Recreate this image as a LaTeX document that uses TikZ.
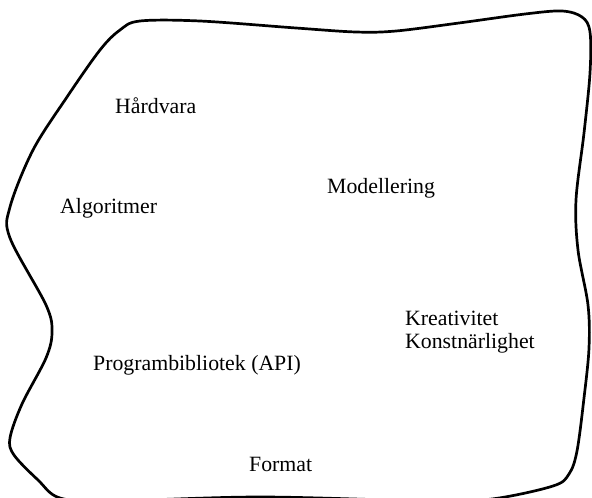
\documentclass[tikz,border=0pt]{standalone}
\usepackage{fontspec}
\setmainfont{Liberation Serif}
\begin{document}
\begin{tikzpicture}[x=1pt,y=-1pt,
  lbl/.style={anchor=base west,inner sep=0pt,font=\fontsize{21.8}{23}\selectfont},
  blob/.style={line width=2.7pt,line join=round}]
\useasboundingbox (0,0) rectangle (592,498);
\clip (0,0) rectangle (592,498);
% freehand outline of the field
\draw[blob] plot[smooth cycle,tension=0.55] coordinates {
  (140,21) (200,21) (296,28) (356,32) (396,31) (459,23) (525,14) (562,11)
  (582,17) (590,32) (590,73) (584,133) (576,200) (578,250) (588,305)
  (589,348) (584,398) (577,451) (569,474) (553,486) (492,499)
  (430,501) (260,497) (110,501) (60,498) (38,480) (14,455) (10,438)
  (22,404) (46,358) (52,332) (46,305) (10,238) (10,207) (33,150)
  (67,97) (100,50) (120,30)};
% topics
\node[lbl] (hardvara) at (115,113) {Hårdvara};
\node[lbl] (modellering) at (327,193) {Modellering};
\node[lbl] (algoritmer) at (60,213) {Algoritmer};
\node[lbl] (kreativitet) at (405,325) {Kreativitet};
\node[lbl] (konstnarlighet) at (405,348) {Konstnärlighet};
\node[lbl] (api) at (93,370) {Programbibliotek (API)};
\node[lbl] (format) at (249,471) {Format};
\end{tikzpicture}
\end{document}
